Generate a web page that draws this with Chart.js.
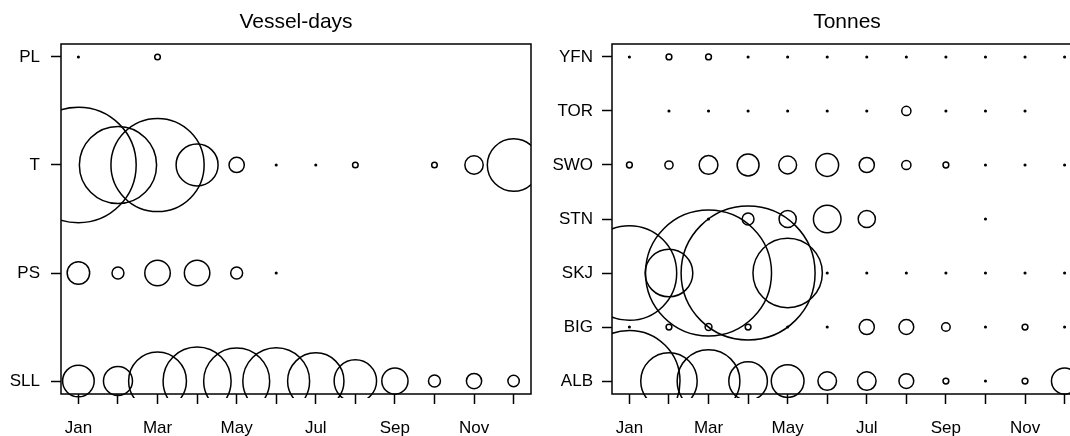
<!DOCTYPE html>
<html lang="en">
<head>
<meta charset="UTF-8">
<title>Vessel-days and Tonnes by month</title>
<script src="https://cdn.jsdelivr.net/npm/chart.js@4.4.1/dist/chart.umd.min.js"></script>
<style>
    html, body {
        margin: 0;
        padding: 0;
        background: #fff;
        width: 1070px;
        height: 436px;
        overflow: hidden;
    }

    canvas {
        position: absolute;
        top: 0;
    }

    #effortChart { left: 0; }
    #catchChart { left: 540px; }
</style>
</head>
<body>
<canvas id="effortChart" width="540" height="436"></canvas>
<canvas id="catchChart" width="550" height="436"></canvas>

<script>
    const months = ['Jan', 'Feb', 'Mar', 'Apr', 'May', 'Jun', 'Jul', 'Aug', 'Sep', 'Oct', 'Nov', 'Dec'];

    // Vessel-days by gear (top to bottom)
    const gears = ['PL', 'T', 'PS', 'SLL'];
    const daysPL  = [0.2, null, 2.4, null, null, null, null, null, null, null, null, null];
    const daysT   = [1030, 460, 670, 136, 18, 0.2, 0.2, 2.4, null, 2.4, 26, 213];
    const daysPS  = [39, 11, 50, 50, 11, 0.2, null, null, null, null, null, null];
    const daysSLL = [77, 65, 258, 357, 336, 344, 245, 139, 53, 11, 18, 10];

    // Tonnes by species (top to bottom)
    const species = ['YFN', 'TOR', 'SWO', 'STN', 'SKJ', 'BIG', 'ALB'];
    const tonYFN = [0.16, 2.1, 2.1, 0.16, 0.16, 0.16, 0.16, 0.16, 0.16, 0.16, 0.16, 0.16];
    const tonTOR = [null, 0.16, 0.16, 0.16, 0.16, 0.16, 0.16, 5.3, 0.16, 0.16, 0.16, null];
    const tonSWO = [2.1, 4.2, 22, 30, 20, 32.5, 14.4, 5.3, 2.1, 0.16, 0.16, 0.16];
    const tonSTN = [null, null, 0.16, 8.7, 18.5, 47.6, 18.5, null, null, 0.16, null, null];
    const tonSKJ = [559, 142, 992, 1122, 301, 0.16, 0.16, 0.16, 0.16, 0.16, 0.16, 0.16];
    const tonBIG = [0.16, 2.1, 2.9, 2.1, 0.16, 0.16, 14.4, 13.7, 4.6, 0.16, 2.1, 0.16];
    const tonALB = [640, 199, 246, 93, 67, 21.6, 21.6, 13.7, 2.1, 0.16, 2.1, 43];

    Chart.defaults.font.family = "'Liberation Sans', Arial, sans-serif";
    Chart.defaults.color = '#000';

    // draws the full frame round the plot area
    const boxPlugin = {
        id: 'box',
        afterDatasetsDraw(chart) {
            const a = chart.chartArea;
            const ctx = chart.ctx;
            ctx.save();
            ctx.strokeStyle = '#000';
            ctx.lineWidth = 1.5;
            ctx.strokeRect(a.left, a.top, a.right - a.left, a.bottom - a.top);
            ctx.restore();
        }
    };

    // one bubble dataset per row, radius from sqrt of the value
    function buildDatasets(codes, series, k) {
        return codes.map((code, i) => ({
            label: code,
            data: series[i]
                .map((v, m) => v == null ? null : { x: m + 1, y: codes.length - 1 - i, r: k * Math.sqrt(v) })
                .filter(p => p),
            backgroundColor: 'rgba(0,0,0,0)',
            borderColor: '#000',
            borderWidth: 1.5,
            clip: { left: 0, top: 0, right: 0, bottom: 4 }
        }));
    }

    function buildOptions(title, codes, yWidth, yPad, padRight) {
        const n = codes.length - 1;
        return {
            responsive: false,
            animation: false,
            devicePixelRatio: 1,
            layout: { autoPadding: false, padding: { left: 0, right: padRight, top: 0, bottom: 0 } },
            plugins: {
                legend: { display: false },
                tooltip: { enabled: false },
                title: {
                    display: true,
                    text: title,
                    fullSize: false,
                    color: '#000',
                    font: { size: 21, weight: 'normal', lineHeight: 1.2 },
                    padding: { top: 10, bottom: 8.8 }
                }
            },
            scales: {
                x: {
                    type: 'linear',
                    min: 0.56,
                    max: 12.44,
                    afterBuildTicks: s => { s.ticks = months.map((m, i) => ({ value: i + 1 })); },
                    afterFit: s => { s.height = 42; },
                    ticks: {
                        autoSkip: false,
                        maxRotation: 0,
                        padding: 14,
                        color: '#000',
                        font: { size: 17 },
                        callback: v => { const m = Math.round(v); return m % 2 === 1 ? months[m - 1] : ''; }
                    },
                    grid: { drawOnChartArea: false, tickLength: 10, tickColor: '#000', tickWidth: 1.5 },
                    border: { display: false }
                },
                y: {
                    type: 'linear',
                    min: -0.04 * n,
                    max: n + 0.04 * n,
                    afterBuildTicks: s => { s.ticks = codes.map((c, i) => ({ value: i })); },
                    afterFit: s => { s.width = yWidth; },
                    ticks: {
                        autoSkip: false,
                        padding: yPad,
                        color: '#000',
                        font: { size: 17 },
                        callback: v => codes[n - Math.round(v)]
                    },
                    grid: { drawOnChartArea: false, tickLength: 10, tickColor: '#000', tickWidth: 1.5 },
                    border: { display: false }
                }
            }
        };
    }

    new Chart(document.getElementById('effortChart').getContext('2d'), {
        type: 'bubble',
        data: { datasets: buildDatasets(gears, [daysPL, daysT, daysPS, daysSLL], 1.8) },
        options: buildOptions('Vessel-days', gears, 61, 11, 9),
        plugins: [boxPlugin]
    });

    new Chart(document.getElementById('catchChart').getContext('2d'), {
        type: 'bubble',
        data: { datasets: buildDatasets(species, [tonYFN, tonTOR, tonSWO, tonSTN, tonSKJ, tonBIG, tonALB], 2) },
        options: buildOptions('Tonnes', species, 72, 9, 8),
        plugins: [boxPlugin]
    });
</script>
</body>
</html>
